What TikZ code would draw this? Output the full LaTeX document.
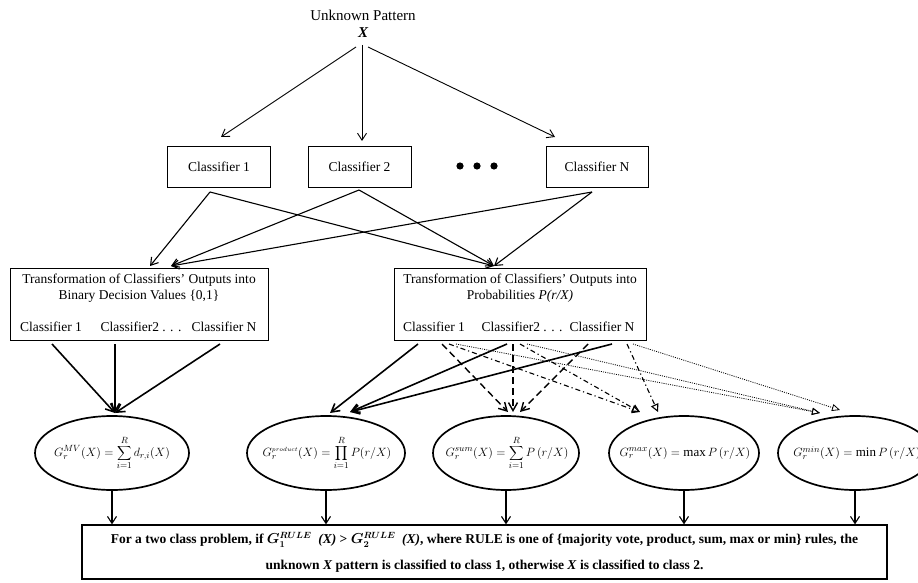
\documentclass[tikz,border=0pt]{standalone}
\usepackage{fontspec}
\setmainfont{Liberation Serif}
\usetikzlibrary{arrows.meta,shapes.geometric}
\begin{document}
\begin{tikzpicture}[x=1pt,y=-1pt,
  every node/.style={font=\fontsize{13.5}{15}\selectfont},
  box/.style={draw,line width=0.9pt,inner sep=0pt},
  ell/.style={draw,ellipse,line width=1.7pt,inner sep=0pt,minimum height=74pt},
  formula/.style={font=\fontsize{13}{15}\selectfont,inner sep=0pt},
  toparr/.style={-{Straight Barb[length=7pt,width=9pt]},line width=0.9pt},
  midarr/.style={-{Straight Barb[length=7pt,width=9pt]},line width=1.1pt},
  solarr/.style={-{Straight Barb[length=8pt,width=9pt]},line width=1.6pt},
  dasharr/.style={-{Straight Barb[length=8pt,width=9pt]},line width=1.4pt,dash pattern=on 7pt off 4pt},
  ddarr/.style={-{Triangle[open,length=8pt,width=8pt]},line width=1.1pt,dash pattern=on 5pt off 3pt on 1.2pt off 3pt},
  dotarr/.style={-{Triangle[open,length=8pt,width=7pt]},line width=0.8pt,dash pattern=on 1pt off 1.2pt},
  botarr/.style={-{Straight Barb[length=7pt,width=9pt]},line width=1.1pt}]
\useasboundingbox (0,0) rectangle (918,583);

% title
\node[font=\fontsize{15}{17}\selectfont] (title) at (363,15) {Unknown Pattern};
\node[font=\fontsize{15}{17}\selectfont\bfseries\itshape] (xx) at (363,33) {X};

% classifiers
\node[box,minimum width=103pt,minimum height=41pt] (c1) at (219,166.5) {Classifier 1};
\node[box,minimum width=103pt,minimum height=41pt] (c2) at (359.5,166.5) {Classifier 2};
\node[box,minimum width=102pt,minimum height=41pt] (cn) at (597,166.5) {Classifier N};
\fill (460,166) circle (3.6pt) coordinate (d1);
\fill (477,166) circle (3.6pt) coordinate (d2);
\fill (494,166) circle (3.6pt) coordinate (d3);

\coordinate (xa) at (356,47);
\coordinate (xb) at (362,45);
\coordinate (xc) at (368,47);
\coordinate (c1t) at (221,137);
\coordinate (c2t) at (362,141);
\coordinate (cnt) at (555,137);
\draw[toparr] (xa) -- (c1t);
\draw[toparr] (xb) -- (c2t);
\draw[toparr] (xc) -- (cnt);

% transformation boxes
\node[box,minimum width=258pt,minimum height=72pt] (bin) at (139,304) {};
\node (bint1) at (139,280) {Transformation of Classifiers' Outputs into};
\node (bint2) at (139,296) {Binary Decision Values \{0,1\}};
\node (binc1) at (51,327) {Classifier 1};
\node (binc2) at (141,327) {Classifier2 . . .};
\node (bincn) at (224,327) {Classifier N};

\node[box,minimum width=252pt,minimum height=72pt] (prob) at (520,304) {};
\node (probt1) at (520,280) {Transformation of Classifiers' Outputs into};
\node (probt2) at (520,296) {Probabilities \textit{P(r/X)}};
\node (probc1) at (434,327) {Classifier 1};
\node (probc2) at (522,327) {Classifier2 . . .};
\node (probcn) at (602,327) {Classifier N};

\coordinate (c1b) at (210,192);
\coordinate (c2b) at (359,190);
\coordinate (cnb) at (592,192);
\coordinate (binA) at (150,266);
\coordinate (binB) at (171,266);
\coordinate (probT) at (494,266);
\draw[midarr] (c1b) -- (binA);
\draw[midarr] (c1b) -- (probT);
\draw[midarr] (c2b) -- (binB);
\draw[midarr] (c2b) -- (probT);
\draw[midarr] (cnb) -- (binB);
\draw[midarr] (cnb) -- (probT);

% ellipses
\node[ell,minimum width=154pt] (e1) at (112,453) {};
\node[ell,minimum width=158pt] (e2) at (326,453) {};
\node[ell,minimum width=146pt] (e3) at (506,453) {};
\node[ell,minimum width=150pt] (e4) at (684,453) {};
\node[ell,minimum width=154pt] (e5) at (855,453) {};
\node[formula] (f1) at (112,453) {$G_r^{MV}(X)=\displaystyle\sum_{i=1}^{R} d_{r,i}(X)$};
\node[formula] (f2) at (327,453) {$G_r^{\scriptscriptstyle product}(X)=\displaystyle\prod_{i=1}^{R} P(r/X)$};
\node[formula] (f3) at (507,453) {$G_r^{sum}(X)=\displaystyle\sum_{i=1}^{R} P\left(r/X\right)$};
\node[formula] (f4) at (685,453) {$G_r^{max}(X)=\max P\left(r/X\right)$};
\node[formula] (f5) at (857,453) {$G_r^{min}(X)=\min P\left(r/X\right)$};

% binary -> e1
\coordinate (bb1) at (52,344);
\coordinate (bb2) at (115,344);
\coordinate (bb3) at (220,344);
\coordinate (e1t) at (115,413);
\draw[solarr] (bb1) -- (e1t);
\draw[solarr] (bb2) -- (e1t);
\draw[solarr] (bb3) -- (e1t);

% prob -> ellipses
\coordinate (p1s) at (418,344);
\coordinate (p1d) at (442,344);
\coordinate (p1dd) at (449,344);
\coordinate (p1o) at (456,344);
\coordinate (p2s) at (507,344);
\coordinate (p2d) at (513,344);
\coordinate (p2dd) at (520,344);
\coordinate (p2o) at (527,344);
\coordinate (pnd) at (588,344);
\coordinate (pns) at (612,344);
\coordinate (pndd) at (627,344);
\coordinate (pno) at (633,344);
\coordinate (e2a) at (330,413);
\coordinate (e2b) at (350,412);
\coordinate (e3a) at (508,412);
\coordinate (e3b) at (513,412);
\coordinate (e3c) at (520,412);
\coordinate (e4a) at (640,412);
\coordinate (e4b) at (658,412);
\coordinate (e5a) at (820,413);
\coordinate (e5b) at (840,410);
\draw[solarr] (p1s) -- (e2a);
\draw[solarr] (p2s) -- (e2b);
\draw[solarr] (pns) -- (e2b);
\draw[dasharr] (p1d) -- (e3a);
\draw[dasharr] (p2d) -- (e3b);
\draw[dasharr] (pnd) -- (e3c);
\draw[ddarr] (p1dd) -- (e4a);
\draw[ddarr] (p2dd) -- (e4a);
\draw[ddarr] (pndd) -- (e4b);
\draw[dotarr] (p1o) -- (e5a);
\draw[dotarr] (p2o) -- (e5a);
\draw[dotarr] (pno) -- (e5b);

% bottom box
\node[box,line width=1.2pt,minimum width=805pt,minimum height=54pt] (res) at (484.5,552) {};
\node[font=\fontsize{13.5}{15}\selectfont\bfseries] (rest1) at (484.5,540) {For a two class problem, if {\boldmath$G_1^{RULE}$}\enspace\textit{(X)} > {\boldmath$G_2^{RULE}$}\enspace\textit{(X)}, where RULE is one of \{majority vote, product, sum, max or min\} rules, the};
\node[font=\fontsize{13.5}{15}\selectfont\bfseries] (rest2) at (484.5,566) {unknown \textit{X} pattern is classified to class 1, otherwise \textit{X} is classified to class 2.};

\draw[botarr] (e1.south) -- (e1.south |- res.north);
\draw[botarr] (e2.south) -- (e2.south |- res.north);
\draw[botarr] (e3.south) -- (e3.south |- res.north);
\draw[botarr] (e4.south) -- (e4.south |- res.north);
\draw[botarr] (e5.south) -- (e5.south |- res.north);
\end{tikzpicture}
\end{document}
